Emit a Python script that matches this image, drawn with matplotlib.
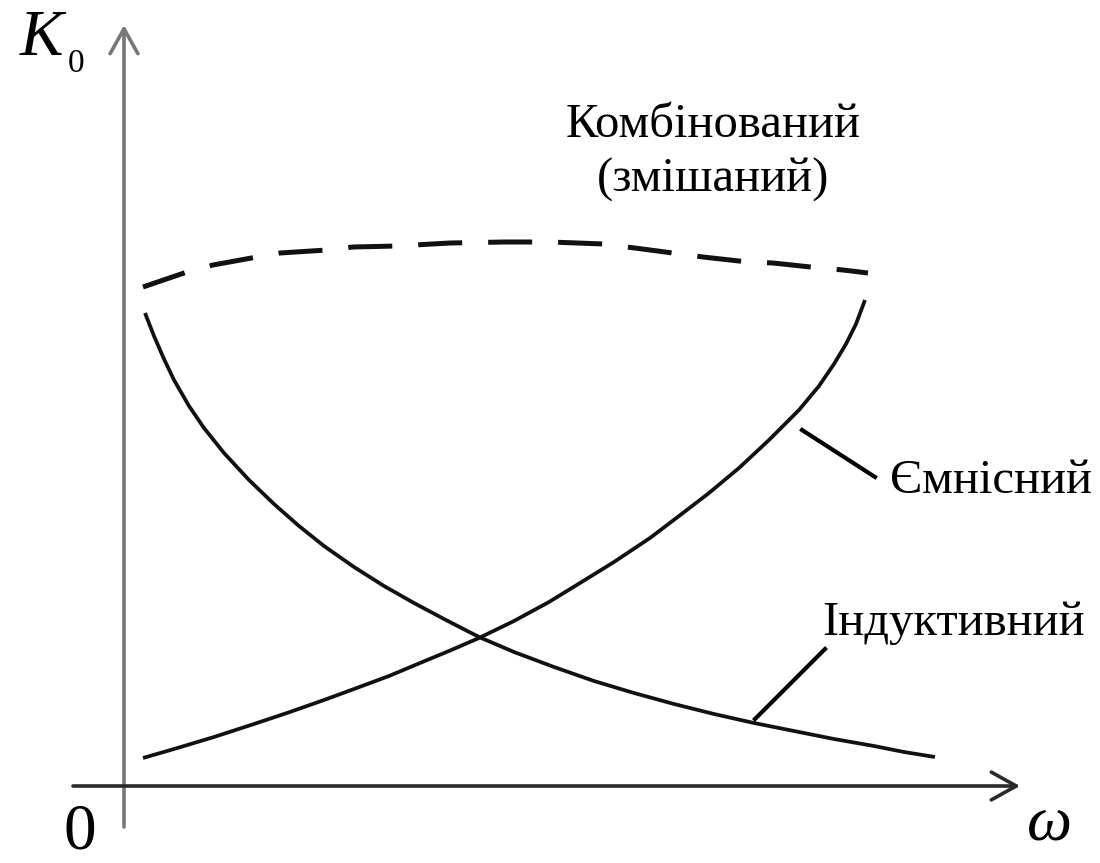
# k0_vs_omega.py
# K0(w) para filtros inductivo, capacitivo y combinado

import matplotlib.pyplot as plt

plt.rcParams['font.family'] = ['Liberation Serif', 'DejaVu Serif']
plt.rcParams['lines.scale_dashes'] = False

# ---------- Datos ----------
# Індуктивний: K0 cae con la frecuencia
ind_w = [0.21, 0.30, 0.40, 0.50, 0.65, 0.80, 1.00, 1.25, 1.50, 1.75, 2.00,
         2.30, 2.60, 2.90, 3.20, 3.55, 3.90, 4.30, 4.70, 5.10, 5.50, 5.90,
         6.30, 6.70, 7.10, 7.50, 7.80, 8.11]
ind_k = [4.73, 4.50, 4.27, 4.06, 3.80, 3.58, 3.33, 3.06, 2.82, 2.60, 2.40,
         2.19, 2.00, 1.83, 1.67, 1.49, 1.34, 1.19, 1.05, 0.93, 0.82, 0.72,
         0.63, 0.55, 0.47, 0.40, 0.34, 0.29]

# Ємнісний: K0 crece con la frecuencia
cap_w = [0.19, 0.50, 0.90, 1.30, 1.63, 2.00, 2.30, 2.65, 2.96, 3.25, 3.55,
         3.90, 4.25, 4.56, 4.90, 5.26, 5.55, 5.85, 6.15, 6.45, 6.75, 6.95,
         7.10, 7.22, 7.32, 7.41]
cap_k = [0.28, 0.37, 0.49, 0.62, 0.73, 0.86, 0.97, 1.10, 1.23, 1.35, 1.48,
         1.65, 1.84, 2.03, 2.24, 2.48, 2.70, 2.93, 3.18, 3.46, 3.76, 4.00,
         4.22, 4.42, 4.62, 4.86]

# Комбінований (змішаний): casi plano
mix_w = [0.19, 0.63, 0.89, 1.33, 1.56, 2.03, 2.29, 2.73, 3.26, 3.80, 4.26,
         4.80, 5.26, 5.79, 6.24, 6.49, 6.96, 7.19, 7.44]
mix_k = [4.99, 5.14, 5.21, 5.29, 5.33, 5.36, 5.39, 5.40, 5.43, 5.44, 5.44,
         5.42, 5.36, 5.29, 5.24, 5.23, 5.18, 5.16, 5.13]

# lineas de llamada (desde la curva hacia la etiqueta)
cap_lead_w = [6.78, 7.51]
cap_lead_k = [3.56, 3.09]
ind_lead_w = [6.31, 7.01]
ind_lead_k = [0.67, 1.37]

# ---------- Figura ----------
fig = plt.figure(figsize=(11, 8.63), dpi=100)
ax = fig.add_axes([0, 0, 1, 1])
ax.set_xlim(-1.24, 9.76)
ax.set_ylim(-0.77, 7.86)
ax.axis('off')

# ejes con flecha abierta
arrow = '->,head_length=0.9,head_width=0.5'
ax.annotate('', xy=(0, 7.61), xytext=(0, -0.41),
            arrowprops=dict(arrowstyle=arrow, lw=2.6, color='#777777',
                            mutation_scale=20, shrinkA=0, shrinkB=0))
ax.annotate('', xy=(8.96, 0), xytext=(-0.51, 0),
            arrowprops=dict(arrowstyle=arrow, lw=2.6, color='#2a2a2a',
                            mutation_scale=20, shrinkA=0, shrinkB=0))

# curvas
ax.plot(ind_w, ind_k, color='#111111', lw=2.7, solid_capstyle='butt',
        solid_joinstyle='round')
ax.plot(cap_w, cap_k, color='#111111', lw=2.7, solid_capstyle='butt',
        solid_joinstyle='round')
ax.plot(mix_w, mix_k, color='#111111', lw=3.6, dashes=(31.7, 18.7),
        dash_capstyle='butt')

ax.plot(cap_lead_w, cap_lead_k, color='black', lw=3.0)
ax.plot(ind_lead_w, ind_lead_k, color='black', lw=3.0)

# ---------- Textos ----------
ax.text(-1.04, 7.31, 'K', fontsize=47, style='italic', ha='left', va='baseline')
ax.text(-0.56, 7.14, '0', fontsize=24, ha='left', va='baseline')
ax.text(-0.61, -0.765, '0', fontsize=47, ha='left', va='bottom')
ax.text(9.03, -0.54, 'ω', fontsize=46, style='italic', ha='left', va='baseline')

ax.text(5.89, 6.61, 'Комбінований', fontsize=35, ha='center', va='center')
ax.text(5.89, 6.06, '(змішаний)', fontsize=35, ha='center', va='center')
ax.text(7.66, 3.05, 'Ємнісний', fontsize=35, ha='left', va='center')
ax.text(6.98, 1.63, 'Індуктивний', fontsize=35, ha='left', va='center')

fig.savefig('out.png', dpi=100)
